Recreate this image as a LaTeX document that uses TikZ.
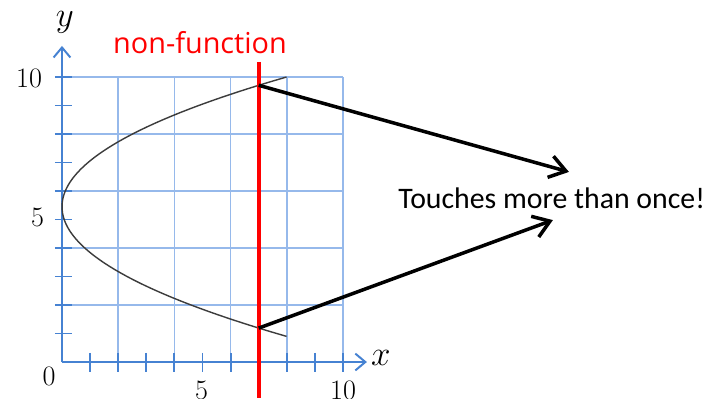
\documentclass[tikz,border=0pt]{standalone}
\usepackage{fontspec}
\newfontfamily\labelfont{Carlito}
\newfontfamily\titlefont{Open Sans}
\usetikzlibrary{arrows.meta, positioning}

\definecolor{gridblue}{RGB}{150,185,235}
\definecolor{axisblue}{RGB}{70,130,210}
\definecolor{curvegray}{RGB}{60,60,60}

\begin{document}
\begin{tikzpicture}[
    x=0.7025cm, y=0.7125cm,
    gridline/.style={gridblue, line width=1.1pt},
    axisline/.style={axisblue, line width=1.4pt},
    axistip/.style={-{Straight Barb[length=0.25cm, width=0.42cm, line width=1.4pt]}},
    tickline/.style={axisblue, line width=1.3pt},
    num/.style={font=\fontsize{20}{22}\selectfont, inner sep=1pt},
    varname/.style={font=\fontsize{26}{28}\selectfont, inner sep=0pt},
    pointer/.style={line width=2.5pt, -{Straight Barb[length=0.4cm, width=0.55cm, line width=2.5pt]}},
    >=stealth
]
\useasboundingbox[fill=white] (-2.206,-1.263) rectangle (23.416,12.702);

% grid
\foreach \k in {2,4,...,10} {
  \draw[gridline] (\k,0) -- (\k,10);
  \draw[gridline] (0,\k) -- (10,\k);
}

% axes
\coordinate (O) at (0,0);
\coordinate (xend) at (10.85,0);
\coordinate (yend) at (0,11.09);
\draw[axisline, axistip] (O) -- (xend);
\draw[axisline, axistip] (O) -- (yend);
\foreach \k in {1,...,10} {
  \draw[tickline] (\k,0.32) -- (\k,-0.35);
  \draw[tickline] (-0.25,\k) -- (0.36,\k);
}

% labels
\node[num] (y10) at (-1.17,9.96) {10};
\node[num] (y5) at (-0.87,5.09) {5};
\node[num] (zero) at (-0.46,-0.49) {0};
\node[num, anchor=north] (x5) at (4.97,-0.6) {5};
\node[num, anchor=north] (x10) at (10,-0.6) {10};
\node[varname] (xlab) at (11.35,0.14) {$x$};
\node[varname] (ylab) at (0.1,11.9) {$y$};

% curve
\draw[curvegray, line width=1pt, domain=0.9:10, samples=60, smooth]
  plot ({0.386*(\x-5.45)^2}, \x);

% vertical line test
\coordinate (vtop) at (7,10.53);
\coordinate (vbot) at (7,-1.263);
\draw[red, line width=2.8pt] (vtop) -- (vbot);
\node[red, font=\titlefont\fontsize{20.5}{22}\selectfont] (title) at (4.91,11.2) {non-function};

% where it touches
\coordinate (hitA) at (7,9.71);
\coordinate (hitB) at (7,1.19);
\node[font=\labelfont\fontsize{21.2}{23}\selectfont, anchor=west, inner sep=0pt] (msg) at (11.96,5.75) {Touches more than once!};
\coordinate (tipA) at (18.04,6.67);
\coordinate (tipB) at (17.47,4.98);
\draw[pointer] (hitA) -- (tipA);
\draw[pointer] (hitB) -- (tipB);

\end{tikzpicture}
\end{document}
